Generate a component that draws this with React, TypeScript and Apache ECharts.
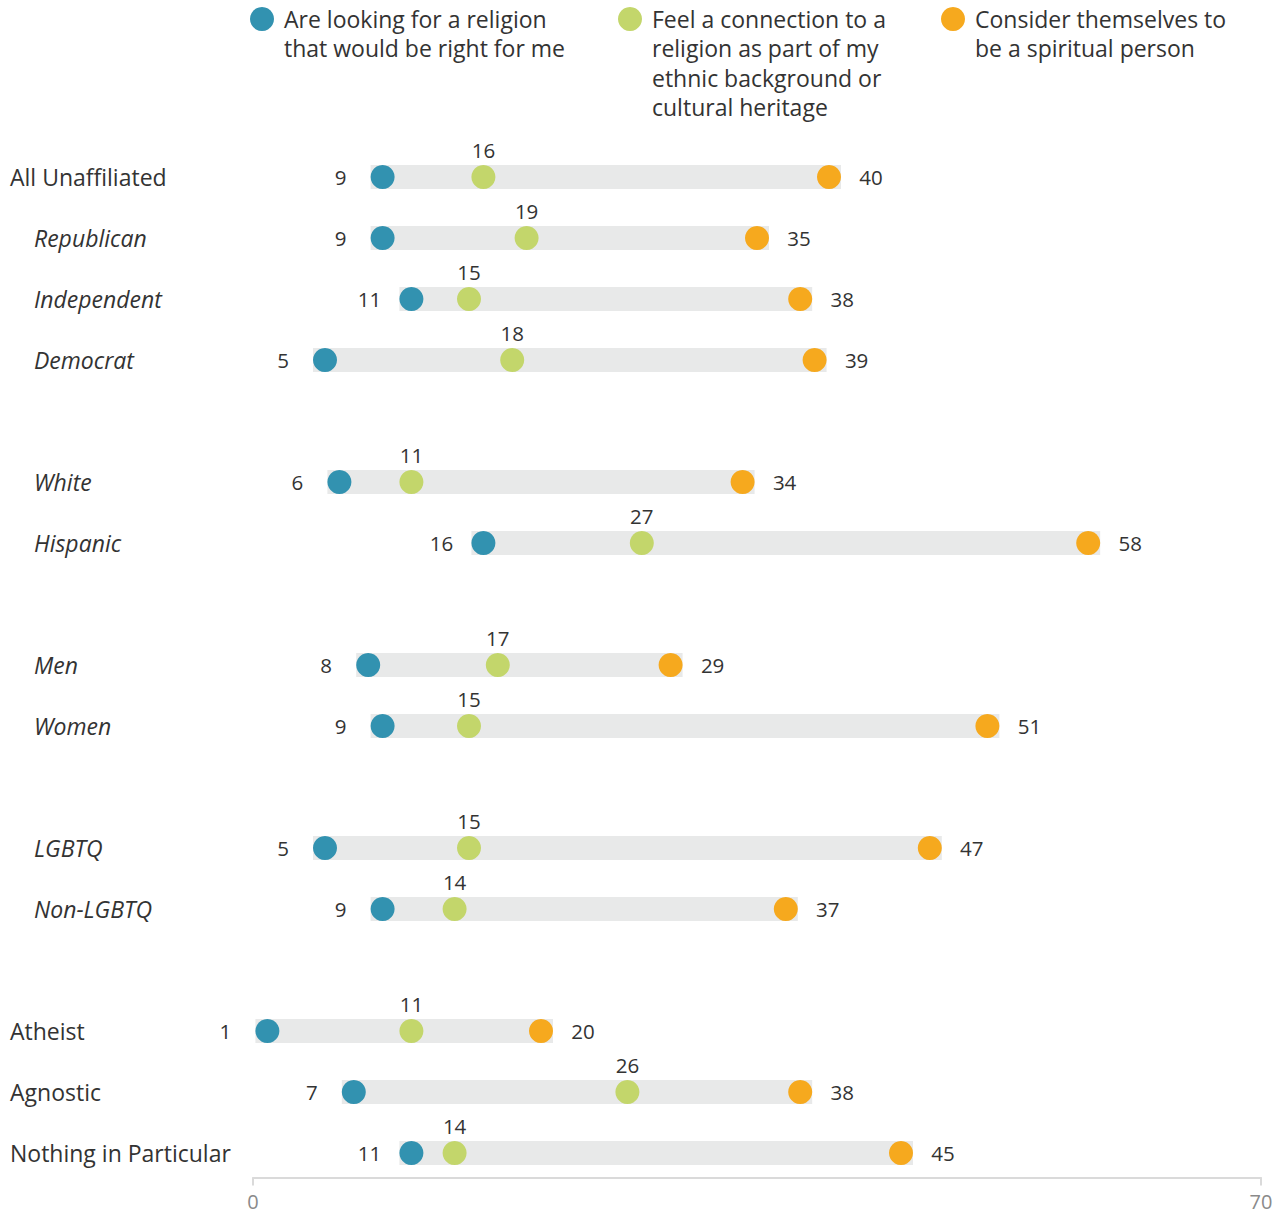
import React, { useEffect, useRef } from "react";
import * as echarts from "echarts";

const categories = [
  "All Unaffiliated", "Republican", "Independent", "Democrat", "gap1",
  "White", "Hispanic", "gap2",
  "Men", "Women", "gap3",
  "LGBTQ", "Non-LGBTQ", "gap4",
  "Atheist", "Agnostic", "Nothing in Particular",
];
const subgroups = ["Republican", "Independent", "Democrat", "White", "Hispanic", "Men", "Women", "LGBTQ", "Non-LGBTQ"];
const rowNames = categories.filter((c) => !c.startsWith("gap"));

const lookingValues = [9, 9, 11, 5, 6, 16, 8, 9, 5, 9, 1, 7, 11];
const connectionValues = [16, 19, 15, 18, 11, 27, 17, 15, 15, 14, 11, 26, 14];
const spiritualValues = [40, 35, 38, 39, 34, 58, 29, 51, 47, 37, 20, 38, 45];

const seriesNames = [
  "Are looking for a religion\nthat would be right for me",
  "Feel a connection to a\nreligion as part of my\nethnic background or\ncultural heritage",
  "Consider themselves to\nbe a spiritual person",
];
const colors = ["#3292b0", "#c3d66b", "#f6a91e"];
const xMin = 0;
const xMax = 70;

const FONT = "'Open Sans', 'Noto Sans', sans-serif";

export default function App() {
  const ref = useRef<HTMLDivElement>(null);
  useEffect(() => {
    document.body.style.margin = "0";
    const chart = echarts.init(ref.current!, null, { renderer: "svg" });
    const valueLabel = (offset: number[]) => ({
      show: true,
      position: "inside",
      offset,
      color: "#333",
      fontSize: 20.5,
      fontFamily: FONT,
      formatter: (p: any) => String(p.value[0]),
    });
    const allSeries = [lookingValues, connectionValues, spiritualValues];
    const offsets = [[-42, 0], [0, -27], [42, 0]];
    const legendX = [262, 630, 953];
    const graphic: any[] = [];
    seriesNames.forEach((name, i) => {
      graphic.push({
        type: "circle",
        shape: { cx: legendX[i], cy: 19, r: 12 },
        style: { fill: colors[i] },
      });
      graphic.push({
        type: "text",
        x: legendX[i] + 22,
        y: 4,
        style: {
          text: name,
          fill: "#333",
          font: `23px ${FONT}`,
          lineHeight: 29.5,
          verticalAlign: "top",
          align: "left",
        },
      });
    });
    chart.setOption({
      animation: false,
      textStyle: { fontFamily: FONT },
      grid: { left: 253, right: 25, top: 146.5, bottom: 32.5, containLabel: false },
      xAxis: {
        type: "value",
        min: xMin,
        max: xMax,
        interval: 70,
        offset: -6,
        splitLine: { show: false },
        axisLine: { show: true, lineStyle: { color: "#dadada", width: 2 } },
        axisTick: { show: true, length: 8, lineStyle: { color: "#dadada", width: 2 } },
        axisLabel: { color: "#8a8a8a", fontSize: 20, margin: 14, fontFamily: FONT },
      },
      yAxis: {
        type: "category",
        data: categories,
        inverse: true,
        axisLine: { show: false },
        axisTick: { show: false },
        splitLine: { show: false },
        axisLabel: {
          align: "left",
          margin: 243,
          formatter: (v: string) =>
            v.startsWith("gap") ? "" : subgroups.includes(v) ? `{sub|${v}}` : `{main|${v}}`,
          rich: {
            main: { fontSize: 23, color: "#333", fontFamily: FONT },
            sub: { fontSize: 23, color: "#333", fontStyle: "italic", fontFamily: FONT, padding: [0, 0, 0, 24] },
          },
        },
      },
      graphic,
      series: [
        {
          type: "custom",
          z: 1,
          silent: true,
          encode: { x: [0, 2], y: 1 },
          data: rowNames.map((n, i) => [
            Math.min(lookingValues[i], connectionValues[i], spiritualValues[i]),
            n,
            Math.max(lookingValues[i], connectionValues[i], spiritualValues[i]),
          ]),
          renderItem: (params: any, api: any) => {
            const y = api.value(1);
            const s = api.coord([api.value(0), y]);
            const e = api.coord([api.value(2), y]);
            return {
              type: "rect",
              shape: { x: s[0] - 12, y: s[1] - 12, width: e[0] - s[0] + 24, height: 24 },
              style: { fill: "#e8e9e9" },
            };
          },
        },
        ...allSeries.map((vals, si) => ({
          type: "scatter",
          name: seriesNames[si],
          z: 2,
          symbol: "circle",
          symbolSize: 24,
          itemStyle: { color: colors[si], opacity: 1 },
          label: valueLabel(offsets[si]),
          data: rowNames.map((n, i) => [vals[i], n]),
        })),
      ],
    });
    return () => chart.dispose();
  }, []);
  return <div ref={ref} style={{ width: 1286, height: 1216 }} />;
}
